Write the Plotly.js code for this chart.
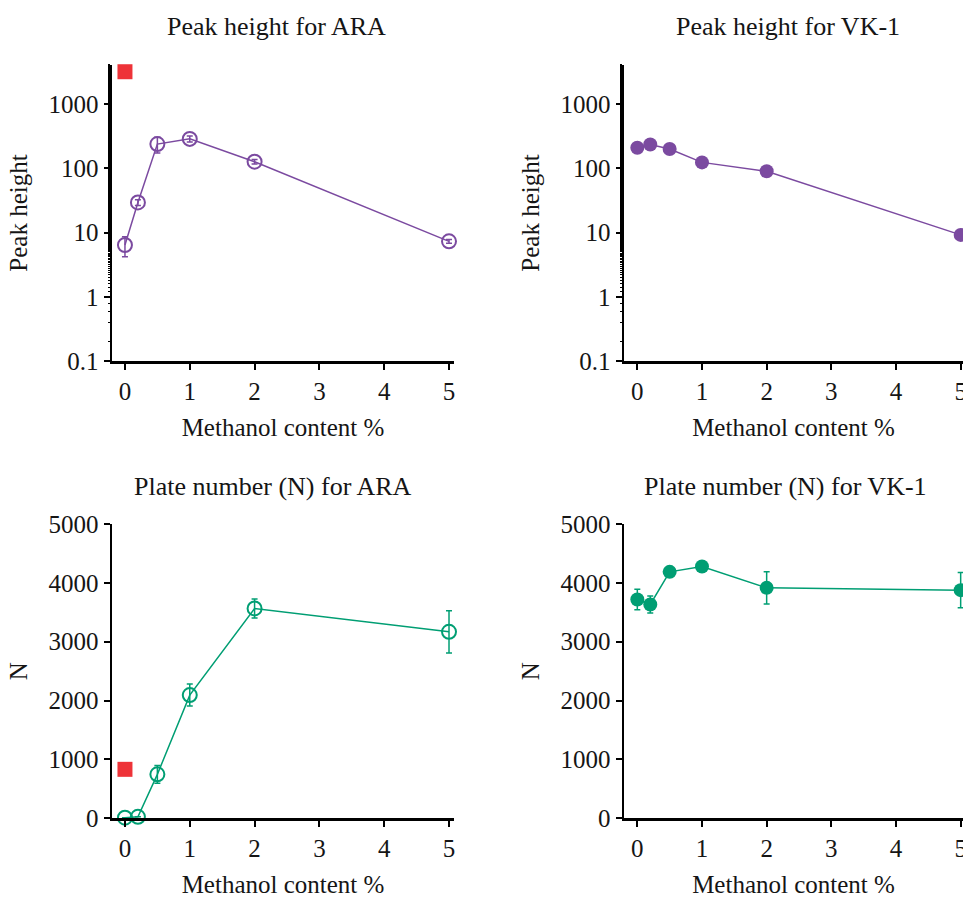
<!DOCTYPE html>
<html>
<head>
<meta charset="utf-8">
<script src="https://cdn.plot.ly/plotly-3.0.1.min.js"></script>
<style>html,body{margin:0;padding:0;background:#fff;} #chart{width:963px;height:898px;}</style>
</head>
<body>
<div id="chart"></div>
<script>
// ---- data ----
const methanol = [0, 0.2, 0.5, 1, 2, 5];
const xTicks = [0, 1, 2, 3, 4, 5];

const araPeak = [6.4, 29.5, 239, 288, 127, 7.3];
const araPeakErr = [2.2, 3, 65, 30, 10, 0.5];
const vkPeak = [209, 236, 200, 124, 90, 9.2];
const vkPeakErr = [8, 8, 8, 5, 4, 0.4];

const araN = [10, 25, 747, 2093, 3565, 3168];
const araNErr = [0, 0, 150, 187, 160, 360];
const vkN = [3718, 3633, 4187, 4278, 3915, 3876];
const vkNErr = [175, 145, 0, 0, 275, 300];

const araPeakFlagX = [0];
const araPeakFlagY = [3200];
const araNFlagX = [0];
const araNFlagY = [832];

const logTickVals = [0.1, 1, 10, 100, 1000];
const logTickText = ['0.1', '1', '10', '100', '1000'];
const linTickVals = [0, 1000, 2000, 3000, 4000, 5000];

const titles = ['Peak height for ARA', 'Peak height for VK-1', 'Plate number (N) for ARA', 'Plate number (N) for VK-1'];

// ---- style ----
const PURPLE = '#7B4AA0';
const GREEN = '#009E73';
const RED = '#EE3338';
const FONT = '"Liberation Serif", "Times New Roman", serif';
const TXT = '#151515';
const W = 963, H = 898;

function errStyle(arr, color) {
  return {type: 'data', array: arr, visible: true, color: color, thickness: 1.5, width: 3};
}

const traces = [
  {x: methanol, y: araPeak, xaxis: 'x', yaxis: 'y', type: 'scatter', mode: 'lines+markers',
   line: {color: PURPLE, width: 1.5}, marker: {symbol: 'circle-open', size: 14, color: PURPLE, line: {width: 2, color: PURPLE}},
   error_y: errStyle(araPeakErr, PURPLE), cliponaxis: false},
  {x: araPeakFlagX, y: araPeakFlagY, xaxis: 'x', yaxis: 'y', type: 'scatter', mode: 'markers',
   marker: {symbol: 'square', size: 15, color: RED}, cliponaxis: false},
  {x: methanol, y: vkPeak, xaxis: 'x2', yaxis: 'y2', type: 'scatter', mode: 'lines+markers',
   line: {color: PURPLE, width: 1.5}, marker: {symbol: 'circle', size: 14, color: PURPLE},
   error_y: errStyle(vkPeakErr, PURPLE), cliponaxis: false},
  {x: methanol, y: araN, xaxis: 'x3', yaxis: 'y3', type: 'scatter', mode: 'lines+markers',
   line: {color: GREEN, width: 1.5}, marker: {symbol: 'circle-open', size: 14, color: GREEN, line: {width: 2, color: GREEN}},
   error_y: errStyle(araNErr, GREEN), cliponaxis: false},
  {x: araNFlagX, y: araNFlagY, xaxis: 'x3', yaxis: 'y3', type: 'scatter', mode: 'markers',
   marker: {symbol: 'square', size: 15, color: RED}, cliponaxis: false},
  {x: methanol, y: vkN, xaxis: 'x4', yaxis: 'y4', type: 'scatter', mode: 'lines+markers',
   line: {color: GREEN, width: 1.5}, marker: {symbol: 'circle', size: 14, color: GREEN},
   error_y: errStyle(vkNErr, GREEN), cliponaxis: false}
];

const px = v => v / W;
const py = v => 1 - v / H;

function xAxis(domain, range, anchor) {
  return {
    domain: domain, range: range, anchor: anchor,
    tickvals: xTicks, ticks: 'outside', ticklen: 6, tickwidth: 2, tickcolor: '#000',
    ticklabeloverflow: 'allow',
    showline: true, linecolor: '#000', linewidth: 2.5, showgrid: false, zeroline: false,
    tickfont: {family: FONT, size: 25, color: TXT},
    title: {text: 'Methanol content %', font: {family: FONT, size: 25, color: TXT}, standoff: 15},
    fixedrange: true
  };
}
function yAxisLog(domain, anchor) {
  return {
    domain: domain, anchor: anchor, type: 'log', range: [-1, 3.61],
    tickvals: logTickVals, ticktext: logTickText,
    ticks: 'outside', ticklen: 6, tickwidth: 2, tickcolor: '#000',
    minor: {ticks: 'outside', ticklen: 2, tickwidth: 1, tickcolor: '#000', showgrid: false},
    showline: true, linecolor: '#000', linewidth: 2.5, showgrid: false, zeroline: false,
    tickfont: {family: FONT, size: 25, color: TXT},
    title: {text: 'Peak height', font: {family: FONT, size: 25, color: TXT}, standoff: 14},
    fixedrange: true
  };
}
function yAxisLin(domain, anchor) {
  return {
    domain: domain, anchor: anchor, range: [0, 5000],
    tickvals: linTickVals,
    ticks: 'outside', ticklen: 6, tickwidth: 2, tickcolor: '#000',
    showline: true, linecolor: '#000', linewidth: 2.5, showgrid: false, zeroline: false,
    tickfont: {family: FONT, size: 25, color: TXT},
    title: {text: 'N', font: {family: FONT, size: 25, color: TXT}, standoff: 14},
    fixedrange: true
  };
}

const leftDom = [px(112), px(454)];
const rightDom = [px(624), 1];
const topDom = [py(361), py(65)];
const botDom = [py(818.3), py(524)];

const layout = {
  width: W, height: H,
  margin: {l: 0, r: 0, t: 0, b: 0},
  paper_bgcolor: '#fff', plot_bgcolor: '#fff',
  showlegend: false,
  font: {family: FONT, size: 25, color: TXT},
  xaxis: xAxis(leftDom, [-0.2, 5.077], 'y'),
  yaxis: yAxisLog(topDom, 'x'),
  xaxis2: xAxis(rightDom, [-0.206, 5.036], 'y2'),
  yaxis2: yAxisLog(topDom, 'x2'),
  xaxis3: xAxis(leftDom, [-0.2, 5.077], 'y3'),
  yaxis3: yAxisLin(botDom, 'x3'),
  xaxis4: xAxis(rightDom, [-0.206, 5.036], 'y4'),
  yaxis4: yAxisLin(botDom, 'x4'),
  annotations: [
    {text: titles[0], x: px(276), y: py(26), xref: 'paper', yref: 'paper', showarrow: false, xanchor: 'center', yanchor: 'middle', font: {family: FONT, size: 26, color: TXT}},
    {text: titles[1], x: px(788), y: py(26), xref: 'paper', yref: 'paper', showarrow: false, xanchor: 'center', yanchor: 'middle', font: {family: FONT, size: 26, color: TXT}},
    {text: titles[2], x: px(273), y: py(486), xref: 'paper', yref: 'paper', showarrow: false, xanchor: 'center', yanchor: 'middle', font: {family: FONT, size: 26, color: TXT}},
    {text: titles[3], x: px(785), y: py(486), xref: 'paper', yref: 'paper', showarrow: false, xanchor: 'center', yanchor: 'middle', font: {family: FONT, size: 26, color: TXT}}
  ]
};

Plotly.newPlot('chart', traces, layout, {staticPlot: true, displayModeBar: false});
</script>
</body>
</html>
